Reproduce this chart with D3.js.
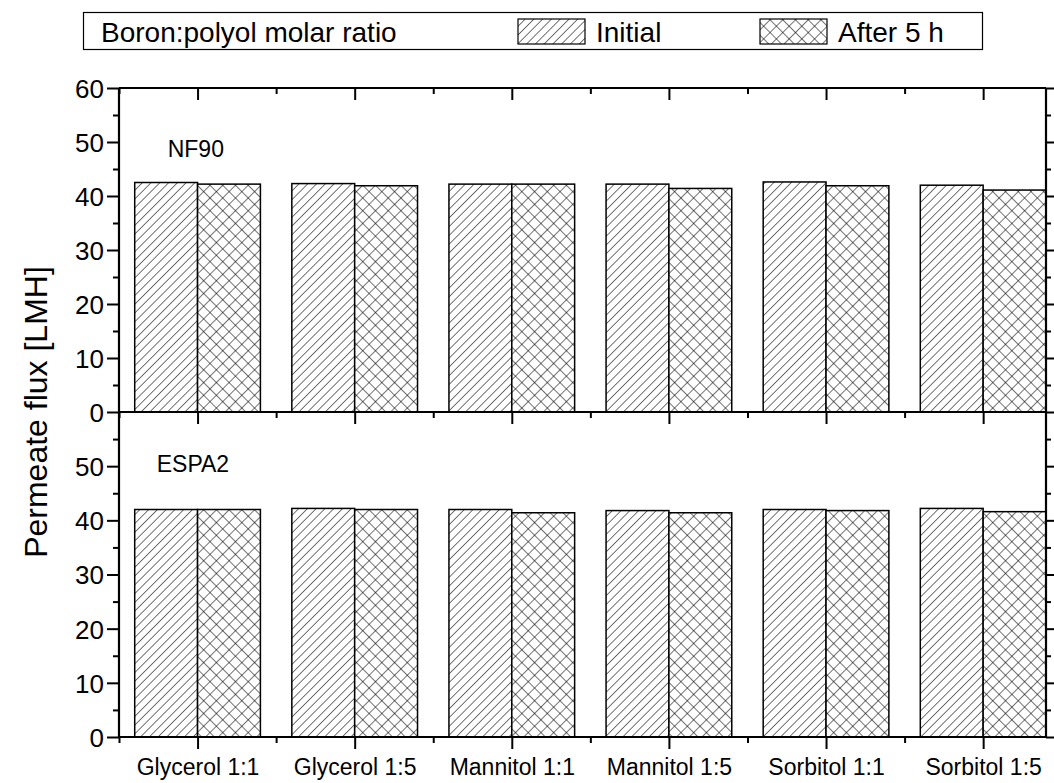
<!DOCTYPE html>
<html><head><meta charset="utf-8">
<script src="https://cdn.jsdelivr.net/npm/d3@7"></script>
<style>body{margin:0;background:#fff}text{font-family:Arial,"Liberation Sans",sans-serif;fill:#000}</style>
</head><body><svg id="c" width="1054" height="783"></svg>
<script>
const categories = ["Glycerol 1:1","Glycerol 1:5","Mannitol 1:1","Mannitol 1:5","Sorbitol 1:1","Sorbitol 1:5"];
const nf90Initial = [42.5,42.3,42.2,42.2,42.6,42.0];
const nf90After   = [42.2,41.9,42.2,41.4,41.9,41.1];
const espa2Initial = [42.0,42.2,42.0,41.8,42.0,42.2];
const espa2After   = [42.0,42.0,41.4,41.4,41.8,41.6];
const panelNames = ["NF90","ESPA2"];
const seriesNames = ["Initial","After 5 h"];
const legendTitle = "Boron:polyol molar ratio";
const yTicksTop = [0,10,20,30,40,50,60];
const yTicksBottom = [0,10,20,30,40,50];
const yLabel = "Permeate flux [LMH]";

const svg = d3.select("#c");
const L = 119, R = 1046;
const x = d3.scaleLinear().domain([0.5, 6.4]).range([L, R]);
const panels = [
  {name: panelNames[0], init: nf90Initial, after: nf90After, y: d3.scaleLinear().domain([0,60]).range([412,88]), ticks: yTicksTop, lx: 0.81, ly: 47.2},
  {name: panelNames[1], init: espa2Initial, after: espa2After, y: d3.scaleLinear().domain([0,60]).range([737,412]), ticks: yTicksBottom, lx: 0.74, ly: 49.0}
];

const hw = 6.2, cw = 9.0;
const defs = svg.append("defs");
const p1 = defs.append("pattern").attr("id","hatch").attr("patternUnits","userSpaceOnUse")
  .attr("width",hw).attr("height",hw).attr("patternTransform","rotate(45)");
p1.append("rect").attr("width",hw).attr("height",hw).attr("fill","#fff");
p1.append("line").attr("x1",0).attr("y1",0).attr("x2",0).attr("y2",hw).attr("stroke","#000").attr("stroke-width",1.1);
const p2 = defs.append("pattern").attr("id","cross").attr("patternUnits","userSpaceOnUse")
  .attr("width",cw).attr("height",cw).attr("patternTransform","rotate(45)");
p2.append("rect").attr("width",cw).attr("height",cw).attr("fill","#fff");
p2.append("line").attr("x1",0).attr("y1",0).attr("x2",0).attr("y2",cw).attr("stroke","#000").attr("stroke-width",1.1);
p2.append("line").attr("x1",0).attr("y1",0).attr("x2",cw).attr("y2",0).attr("stroke","#000").attr("stroke-width",1.1);

const bw = 0.4;
panels.forEach((p, pi) => {
  const g = svg.append("g");
  const idx = d3.range(categories.length);
  g.selectAll(".bi").data(idx).join("rect")
    .attr("x", i => x(i+1-bw)).attr("width", i => x(i+1) - x(i+1-bw))
    .attr("y", i => p.y(p.init[i])).attr("height", i => p.y(0) - p.y(p.init[i]))
    .attr("fill","url(#hatch)").attr("stroke","#000").attr("stroke-width",1.5);
  g.selectAll(".ba").data(idx).join("rect")
    .attr("x", i => x(i+1)).attr("width", i => x(i+1+bw) - x(i+1))
    .attr("y", i => p.y(p.after[i])).attr("height", i => p.y(0) - p.y(p.after[i]))
    .attr("fill","url(#cross)").attr("stroke","#000").attr("stroke-width",1.5);

  const yl = g.append("g").attr("transform",`translate(${L},0)`)
    .call(d3.axisLeft(p.y).tickValues(p.ticks).tickSize(12).tickPadding(3).tickFormat(d3.format("d")));
  yl.selectAll("text").style("font-size","26px").attr("dy","0.36em");
  yl.select(".domain").remove();
  yl.selectAll("line").attr("stroke-width",2);
  const yml = g.append("g").attr("transform",`translate(${L},0)`)
    .call(d3.axisLeft(p.y).tickValues(d3.range(5,60,10)).tickSize(6).tickFormat(""));
  yml.select(".domain").remove(); yml.selectAll("line").attr("stroke-width",2);
  const yr = g.append("g").attr("transform",`translate(${R},0)`)
    .call(d3.axisRight(p.y).tickValues(p.ticks).tickSize(8).tickFormat(""));
  yr.select(".domain").remove(); yr.selectAll("line").attr("stroke-width",2);
  const ymr = g.append("g").attr("transform",`translate(${R},0)`)
    .call(d3.axisRight(p.y).tickValues(d3.range(5,60,10)).tickSize(5).tickFormat(""));
  ymr.select(".domain").remove(); ymr.selectAll("line").attr("stroke-width",2);

  const xb = g.append("g").attr("transform",`translate(0,${p.y(0)})`)
    .call(d3.axisBottom(x).tickValues(d3.range(1,7)).tickSize(12).tickPadding(0)
      .tickFormat(pi === 1 ? (d => categories[d-1]) : ""));
  xb.select(".domain").remove(); xb.selectAll("line").attr("stroke-width",2);
  xb.selectAll("text").style("font-size","23px").attr("dy",null).attr("y",38);
  const xbm = g.append("g").attr("transform",`translate(0,${p.y(0)})`)
    .call(d3.axisBottom(x).tickValues(d3.range(0.5,6,1)).tickSize(6).tickFormat(""));
  xbm.select(".domain").remove(); xbm.selectAll("line").attr("stroke-width",2);

  if (pi === 0) {
    const xt = g.append("g").attr("transform",`translate(0,${p.y(60)})`)
      .call(d3.axisBottom(x).tickValues(d3.range(1,7)).tickSize(12).tickFormat(""));
    xt.select(".domain").remove(); xt.selectAll("line").attr("stroke-width",2);
    const xtm = g.append("g").attr("transform",`translate(0,${p.y(60)})`)
      .call(d3.axisBottom(x).tickValues(d3.range(0.5,6,1)).tickSize(6).tickFormat(""));
    xtm.select(".domain").remove(); xtm.selectAll("line").attr("stroke-width",2);
  }
  g.append("line").attr("x1",L).attr("x2",R).attr("y1",p.y(0)).attr("y2",p.y(0)).attr("stroke","#000").attr("stroke-width",2.2);
  g.append("line").attr("x1",L).attr("x2",R).attr("y1",p.y(60)).attr("y2",p.y(60)).attr("stroke","#000").attr("stroke-width",2.2);
  g.append("line").attr("x1",L).attr("x2",L).attr("y1",p.y(0)).attr("y2",p.y(60)).attr("stroke","#000").attr("stroke-width",2.2);
  g.append("line").attr("x1",R).attr("x2",R).attr("y1",p.y(0)).attr("y2",p.y(60)).attr("stroke","#000").attr("stroke-width",2.2);

  g.append("text").attr("x", x(p.lx)).attr("y", p.y(p.ly))
    .style("font-size","23px").text(p.name);
});

svg.append("text").attr("transform","translate(47,412) rotate(-90)").attr("text-anchor","middle")
  .style("font-size","32px").text(yLabel);

const lg = svg.append("g");
lg.append("rect").attr("x",83.5).attr("y",12.5).attr("width",899).attr("height",37)
  .attr("fill","#fff").attr("stroke","#000").attr("stroke-width",1.2);
lg.append("text").attr("x",101).attr("y",42).style("font-size","28px").text(legendTitle);
const lx = [518, 760];
["url(#hatch)","url(#cross)"].forEach((f,i) => {
  lg.append("rect").attr("x",lx[i]).attr("y",19).attr("width",67).attr("height",25)
    .attr("fill",f).attr("stroke","#000").attr("stroke-width",1.2);
  lg.append("text").attr("x",lx[i]+78).attr("y",42).style("font-size","28px").text(seriesNames[i]);
});
</script></body></html>
